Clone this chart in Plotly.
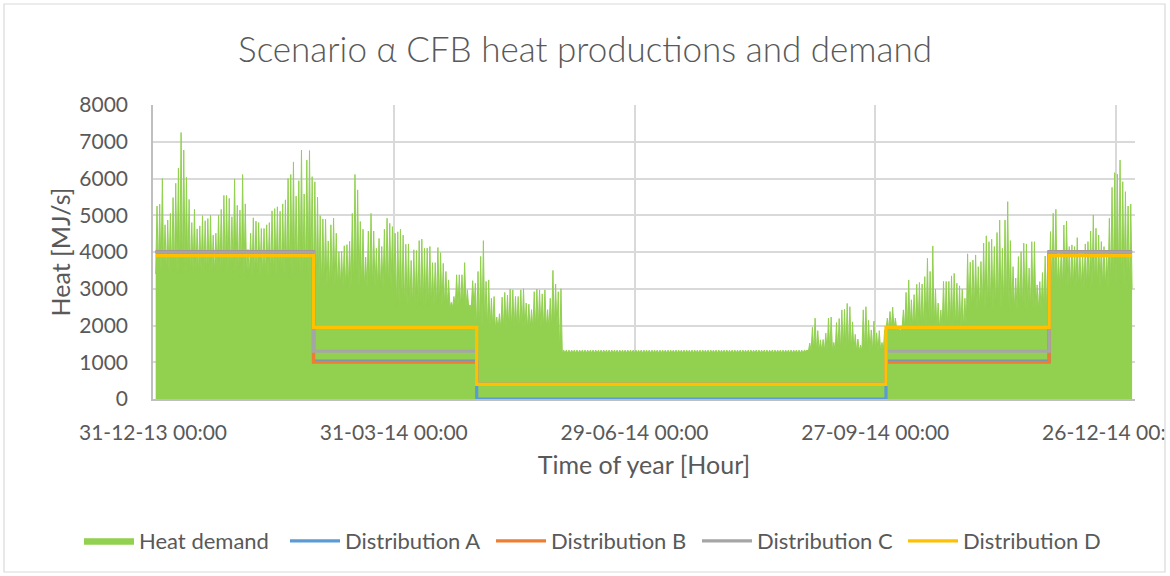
import datetime as dt
import plotly.graph_objects as go

# ---------------- data ----------------
title_text = "Scenario α CFB heat productions and demand"
x_title = "Time of year [Hour]"
y_title = "Heat [MJ/s]"

tick_dates = ["2013-12-31", "2014-03-31", "2014-06-29", "2014-09-27", "2014-12-26"]
tick_labels = ["31-12-13 00:00", "31-03-14 00:00", "29-06-14 00:00", "27-09-14 00:00", "26-12-14 00:00"]

# daily peak heat demand [MJ/s], one value per day of 2014
jan_peaks = [5250, 5300, 6000, 4740, 4870, 5050, 5480, 5870, 6280, 7250,
             6775, 6030, 5430, 4800, 5160, 4630, 4710, 4990, 4850, 4910,
             5000, 4460, 4510, 5000, 5160, 5540, 5540, 5460, 4960, 5990, 5270]
feb_peaks = [5140, 6110, 5310, 4070, 4510, 4930, 4840, 4800, 4640, 4640,
             4740, 4800, 5120, 5180, 5230, 5110, 5310, 5420, 6000, 6110,
             6450, 5520, 5940, 6775, 5580, 6500, 6760, 6050]
mar_peaks = [5910, 5490, 4990, 4900, 4890, 4300, 4740, 4920, 4510, 4010,
             4020, 4170, 4200, 4290, 5050, 6110, 5690, 4830, 4620, 3860,
             4570, 5050, 4570, 4100, 4370, 4150, 4620, 4920, 4780, 4690, 4510]
apr_peaks = [4550, 4620, 4460, 4210, 4220, 3770, 4060, 4040, 4310, 4350,
             4100, 4110, 4150, 3710, 3710, 4120, 3980, 3690, 3470, 3240,
             2630, 2790, 3380, 3380, 3380, 3710, 2970, 2560, 3220, 3150]
may_peaks = [3470, 3880, 4310, 3200, 3240, 2740, 2790, 2230, 2320, 2770,
             2900, 2830, 2990, 2970, 2790, 2790, 2970, 3000, 2610, 2580,
             2430, 2920, 2990, 2970, 2860, 2970, 2430, 2740, 3500, 3130, 2920]
jun_peaks = [3000, 1330, 1330, 1330, 1330, 1330, 1330, 1330, 1330, 1330,
             1330, 1330, 1330, 1330, 1330, 1330, 1330, 1330, 1330, 1330,
             1330, 1330, 1330, 1330, 1330, 1330, 1330, 1330, 1330, 1330]
jul_peaks = [1330, 1330, 1330, 1330, 1330, 1330, 1330, 1330, 1330, 1330,
             1330, 1330, 1330, 1330, 1330, 1330, 1330, 1330, 1330, 1330,
             1330, 1330, 1330, 1330, 1330, 1330, 1330, 1330, 1330, 1330, 1330]
aug_peaks = [1330, 1330, 1330, 1330, 1330, 1330, 1330, 1330, 1330, 1330,
             1330, 1330, 1330, 1330, 1330, 1330, 1330, 1330, 1330, 1330,
             1330, 1330, 1330, 1330, 1330, 1330, 1330, 1330, 1330, 1330, 1330]
sep_peaks = [1330, 1520, 1950, 2200, 1860, 1610, 1620, 1790, 2200, 2230,
             1540, 2080, 2190, 2425, 2440, 2600, 2510, 2100, 1760, 1630,
             1470, 2425, 2510, 2140, 1880, 2120, 1800, 1860, 1540, 1880]
oct_peaks = [2200, 2380, 2500, 2200, 1930, 1880, 2425, 2900, 3240, 2700,
             2840, 3120, 3170, 3130, 3330, 3830, 3470, 4165, 2990, 2610,
             2420, 3200, 3200, 3200, 3350, 3420, 3150, 3080, 2990, 2740, 3950]
nov_peaks = [3720, 3780, 3920, 3600, 3740, 4240, 4440, 4280, 4350, 4150,
             4530, 4870, 4100, 4870, 5370, 4310, 3600, 3290, 3875, 4010,
             4240, 4220, 3560, 4280, 4280, 3105, 3195, 3440, 3890, 3965]
dec_peaks = [4554, 5053, 5161, 3875, 4056, 4735, 4844, 4147, 4192, 4147,
             4391, 3920, 3947, 4219, 4283, 4572, 5007, 4645, 4464, 4283,
             4147, 4010, 4917, 5759, 6158, 6122, 6502, 5913, 5641, 5252, 5306]

# typical night-time (base) demand level per month [MJ/s]
monthly_troughs = [3400, 3300, 3000, 2500, 1900, 1250, 1250, 1250, 1300, 1900, 2400, 3000]

# production distributions: levels per period, change dates
period_starts = ["2014-01-01", "2014-03-01", "2014-05-01", "2014-10-01", "2014-12-01"]
period_end = "2015-01-01"
dist_a = [4010, 1030, 0, 1030, 4010]
dist_b = [4000, 1000, 400, 1000, 4000]
dist_c = [4000, 1300, 400, 1300, 4000]
dist_d = [3900, 1950, 400, 1950, 3900]

# ---------------- build heat demand path ----------------
month_peaks = [jan_peaks, feb_peaks, mar_peaks, apr_peaks, may_peaks, jun_peaks,
               jul_peaks, aug_peaks, sep_peaks, oct_peaks, nov_peaks, dec_peaks]
hx, hy = [], []
day = dt.datetime(2014, 1, 1)
for m, peaks in enumerate(month_peaks):
    for p in peaks:
        hx.append(day)
        hy.append(monthly_troughs[m])
        hx.append(day + dt.timedelta(hours=12))
        hy.append(p)
        day += dt.timedelta(days=1)
hx.append(day)
hy.append(monthly_troughs[-1])

FONT = "Lato"
GREY_TXT = "#595959"

fig = go.Figure()
fig.add_trace(go.Scatter(
    x=hx, y=hy, mode="lines", name="Heat demand",
    line=dict(color="#92D050", width=1), fill="tozeroy", fillcolor="#92D050",
    hoverinfo="skip"))

for name, vals, col in [("Distribution A", dist_a, "#5B9BD5"),
                        ("Distribution B", dist_b, "#ED7D31"),
                        ("Distribution C", dist_c, "#A5A5A5"),
                        ("Distribution D", dist_d, "#FFC000")]:
    fig.add_trace(go.Scatter(
        x=period_starts + [period_end], y=vals + [vals[-1]],
        mode="lines", name=name, line=dict(color=col, width=3.2, shape="hv")))

# pixel helpers for decorative shapes (plot area: x 153..1135, y 105..399)
L, R, T, B = 153, 1135, 105, 399
def px(x):
    return (x - L) / (R - L)
def py(y):
    return (B - y) / (B - T)

fig.update_layout(
    width=1170, height=576,
    margin=dict(l=L, r=1170 - R, t=T, b=576 - B, pad=0, autoexpand=False),
    paper_bgcolor="white", plot_bgcolor="white",
    font=dict(family=FONT, color=GREY_TXT),
    title=dict(text=title_text, x=0.5, xref="container", xanchor="center",
               y=1 - 50 / 576, yref="container", yanchor="middle",
               font=dict(family=FONT, size=35, color=GREY_TXT, weight=300)),
    showlegend=True,
    legend=dict(orientation="h", x=px(79), xanchor="left", y=py(541), yanchor="middle",
                font=dict(family=FONT, size=22, color=GREY_TXT),
                itemwidth=50, entrywidth=141, entrywidthmode="pixels",
                traceorder="normal", bgcolor="rgba(0,0,0,0)"),
    xaxis=dict(type="date", range=["2013-12-31", "2015-01-02 02:00"],
               tickmode="array", tickvals=tick_dates, ticktext=tick_labels,
               ticklabeloverflow="allow",
               showgrid=True, gridcolor="#D9D9D9", gridwidth=1.5,
               showline=True, linecolor="#BFBFBF", linewidth=1.5,
               ticks="", ticklabelstandoff=14,
               tickfont=dict(family=FONT, size=21, color=GREY_TXT),
               title=dict(text=x_title, font=dict(family=FONT, size=25, color=GREY_TXT),
                          standoff=14),
               zeroline=False),
    yaxis=dict(range=[0, 8000], tickmode="linear", tick0=0, dtick=1000,
               showgrid=True, gridcolor="#D9D9D9", gridwidth=1.5,
               showline=True, linecolor="#BFBFBF", linewidth=1.5,
               ticks="", ticklabelstandoff=19,
               tickfont=dict(family=FONT, size=21, color=GREY_TXT),
               title=dict(text=y_title, font=dict(family=FONT, size=25, color=GREY_TXT),
                          standoff=2),
               zeroline=False),
    shapes=[
        dict(type="rect", xref="paper", yref="paper", x0=px(1165.5), x1=px(1200),
             y0=py(580), y1=py(-5), fillcolor="white", line=dict(width=0), layer="above"),
        dict(type="rect", xref="paper", yref="paper", x0=px(4), x1=px(1165),
             y0=py(572), y1=py(4), line=dict(color="#D9D9D9", width=1.2),
             fillcolor="rgba(0,0,0,0)", layer="above"),
    ],
)

fig.write_html("out.html", include_plotlyjs=True, full_html=True,
               config={"displayModeBar": False},
               post_script="document.body.style.margin='0';document.body.style.overflow='hidden';")
